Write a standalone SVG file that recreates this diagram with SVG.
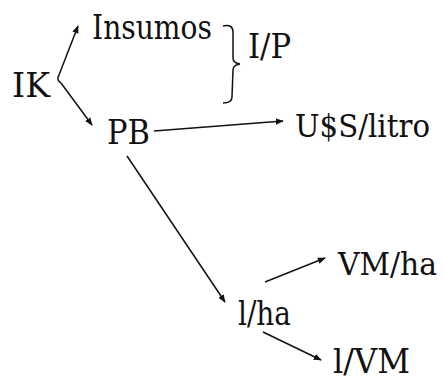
<svg xmlns="http://www.w3.org/2000/svg" width="445" height="380" viewBox="0 0 445 380">
<style>
text{font-family:"DejaVu Serif","Liberation Serif",serif;font-size:33px;fill:#111}
.s{font-size:31.5px}
.c{fill:none;stroke:#111;stroke-width:1.5}
</style>
<defs>
<marker id="ah" viewBox="0 0 10 10" refX="9" refY="5" markerWidth="8" markerHeight="8" markerUnits="userSpaceOnUse" orient="auto">
<path d="M0,1 L10,5 L0,9 Z" fill="#111"/>
</marker>
</defs>
<rect width="445" height="380" fill="#fff"/>
<g id="connectors">
<path class="c" d="M61,83 Q56,80 59,75 L78,26" marker-end="url(#ah)"/>
<path class="c" d="M61,83 L92,125" marker-end="url(#ah)"/>
<path class="c" d="M154,131 L283,121" marker-end="url(#ah)"/>
<path class="c" d="M127,156 L225,302" marker-end="url(#ah)"/>
<path class="c" d="M265,282 L325,258" marker-end="url(#ah)"/>
<path class="c" d="M263,332 L321,360" marker-end="url(#ah)"/>
<path class="c" d="M223,26 Q233,24 233,32 L233,58 Q233,63 240,64 Q233,65 233,70 L232,97 Q232,103 223,103"/>
</g>
<g id="IK"><text x="12" y="97" textLength="38" lengthAdjust="spacingAndGlyphs">IK</text></g>
<g id="Insumos"><text x="92" y="39" textLength="120" lengthAdjust="spacingAndGlyphs">Insumos</text></g>
<g id="IP"><text x="248" y="58" textLength="43" lengthAdjust="spacingAndGlyphs">I/P</text></g>
<g id="PB"><text x="107" y="144" textLength="43" lengthAdjust="spacingAndGlyphs">PB</text></g>
<g id="USS"><text class="s" x="295" y="137" textLength="135" lengthAdjust="spacingAndGlyphs">U$S/litro</text></g>
<g id="lha"><text x="238" y="325" textLength="53" lengthAdjust="spacingAndGlyphs">l/ha</text></g>
<g id="VMha"><text class="s" x="338" y="275" textLength="99" lengthAdjust="spacingAndGlyphs">VM/ha</text></g>
<g id="lVM"><text x="333" y="373" textLength="77" lengthAdjust="spacingAndGlyphs">l/VM</text></g>
</svg>
